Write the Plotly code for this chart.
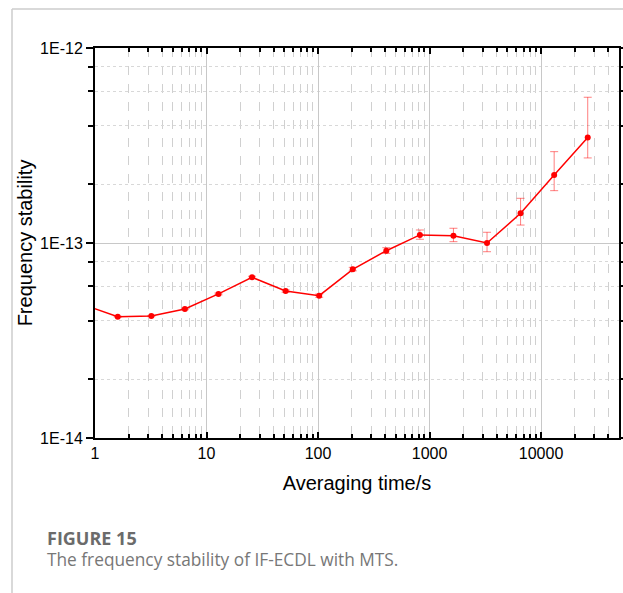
import numpy as np
import plotly.graph_objects as go

tau = [0.8, 1.6, 3.2, 6.4, 12.8, 25.6, 51.2, 102.4, 204.8, 409.6, 819.2,
       1638.4, 3276.8, 6553.6, 13107.2, 26214.4]
sigma = [4.81e-14, 4.19e-14, 4.22e-14, 4.59e-14, 5.48e-14, 6.67e-14, 5.67e-14,
         5.37e-14, 7.33e-14, 9.13e-14, 1.10e-13, 1.09e-13, 1.00e-13, 1.42e-13,
         2.23e-13, 3.48e-13]
err_plus = [0.02e-14, 0.02e-14, 0.03e-14, 0.04e-14, 0.06e-14, 0.08e-14, 0.08e-14,
            0.1e-14, 0.17e-14, 0.33e-14, 0.66e-14, 1.0e-14, 1.35e-14, 2.75e-14,
            7.1e-14, 21.1e-14]
err_minus = [0.02e-14, 0.02e-14, 0.03e-14, 0.04e-14, 0.06e-14, 0.08e-14, 0.08e-14,
             0.1e-14, 0.13e-14, 0.28e-14, 0.55e-14, 0.74e-14, 0.98e-14, 1.84e-14,
             3.75e-14, 7.5e-14]

x_major = [1, 10, 100, 1000, 10000]
x_major_text = ["1", "10", "100", "1000", "10000"]
y_major = [1e-14, 1e-13, 1e-12]
y_major_text = ["1E-14", "1E-13", "1E-12"]

x_minor = [m * d for d in [1, 10, 100, 1000, 10000] for m in range(2, 10) if m * d <= 50000]
y_minor = [m * d for d in [1e-14, 1e-13] for m in (2, 4, 6, 8)]

fig = go.Figure()
fig.add_trace(go.Scatter(
    x=tau, y=sigma, mode="lines+markers",
    line=dict(color="#ff0000", width=1.5),
    marker=dict(color="#ff0000", size=6),
    error_y=dict(type="data", symmetric=False, array=err_plus, arrayminus=err_minus,
                 color="rgba(255,0,0,0.5)", thickness=1, width=4),
    cliponaxis=True, showlegend=False,
))

axis_font = dict(family="Liberation Sans, Arial", size=16, color="#000")
title_font = dict(family="Liberation Sans, Arial", size=20, color="#000")
fig.update_xaxes(
    type="log", range=[0, np.log10(50000)], automargin=False,
    tickvals=x_major, ticktext=x_major_text, tickfont=axis_font,
    ticks="inside", ticklen=6, tickcolor="#000", tickwidth=1.5,
    showline=True, linecolor="#000", linewidth=2, mirror="allticks",
    showgrid=True, gridcolor="#c8c8c8", gridwidth=1,
    minor=dict(tickvals=x_minor, ticks="inside", ticklen=4, tickcolor="#000",
               showgrid=True, gridcolor="#d0d0d0", griddash="dash", gridwidth=1),
    title=dict(text="Averaging time/s", font=title_font, standoff=15),
    zeroline=False,
)
fig.update_yaxes(
    type="log", range=[-14, -12], automargin=False,
    tickvals=y_major, ticktext=y_major_text, tickfont=axis_font,
    ticks="outside", ticklen=7, tickcolor="#000", tickwidth=1.5,
    showline=True, linecolor="#000", linewidth=2, mirror="allticks",
    showgrid=True, gridcolor="#c8c8c8", gridwidth=1,
    minor=dict(tickvals=y_minor, ticks="outside", ticklen=5, tickcolor="#000",
               showgrid=True, gridcolor="#d8d8d8", griddash="dot", gridwidth=1),
    title=dict(text="Frequency stability", font=title_font, standoff=2),
    zeroline=False,
)

L, R, T, B = 95, 4, 48, 155
W, H = 623, 593
pw, ph = W - L - R, H - T - B

def px2paper_x(px):
    return (px - L) / pw

def px2paper_y(py):
    return (H - B - py) / ph

# page frame lines
fig.add_shape(type="line", xref="paper", yref="paper",
              x0=px2paper_x(12), x1=px2paper_x(623), y0=px2paper_y(9), y1=px2paper_y(9),
              line=dict(color="#cccccc", width=1.5))
fig.add_shape(type="line", xref="paper", yref="paper",
              x0=px2paper_x(12), x1=px2paper_x(12), y0=px2paper_y(9), y1=px2paper_y(593),
              line=dict(color="#cccccc", width=1.5))

fig.add_annotation(xref="paper", yref="paper", x=px2paper_x(45), y=px2paper_y(537.5),
                   xanchor="left", yanchor="middle", showarrow=False,
                   text="<b>FIGURE 15</b>",
                   font=dict(family="Open Sans", size=18, color="#6b6b6b"))
fig.add_annotation(xref="paper", yref="paper", x=px2paper_x(45), y=px2paper_y(559),
                   xanchor="left", yanchor="middle", showarrow=False,
                   text="The frequency stability of IF-ECDL with MTS.",
                   font=dict(family="Open Sans", size=17.3, color="#777777"))

fig.update_layout(
    width=W, height=H,
    margin=dict(l=L, r=R, t=T, b=B),
    paper_bgcolor="white", plot_bgcolor="white",
)
fig.write_html("out.html")
